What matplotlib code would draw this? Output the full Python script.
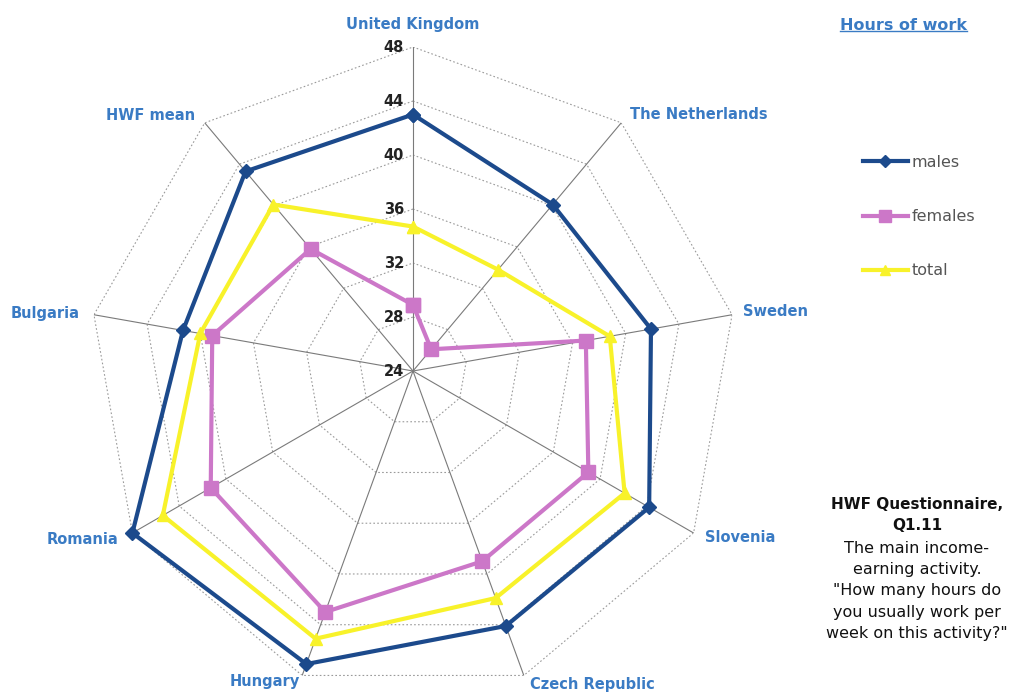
import numpy as np
import matplotlib.pyplot as plt
from matplotlib.lines import Line2D

plt.rcParams['font.family'] = ['DejaVu Sans']

categories = ['United Kingdom', 'The Netherlands', 'Sweden', 'Slovenia',
              'Czech Republic', 'Hungary', 'Romania', 'Bulgaria', 'HWF mean']
males = [43.0, 40.1, 41.9, 44.2, 44.1, 47.1, 48.0, 41.3, 43.3]
females = [28.9, 26.1, 37.0, 39.0, 39.0, 43.0, 41.3, 39.1, 35.8]
total = [34.7, 33.8, 38.8, 42.1, 41.9, 45.1, 45.4, 40.0, 40.1]
r_ticks = [24, 28, 32, 36, 40, 44, 48]

# label offsets in pixels from the outer vertex (ha, dx, dy)
label_pos = [('center', 0, 23), ('left', 9, 8), ('left', 11, 3),
             ('left', 11, -4), ('left', 6, -9), ('right', -2, -6),
             ('right', -14, -6), ('right', -14, 1), ('right', -10, 7)]

blue_txt = '#3a7bc4'
c_males = '#1c4a8c'
c_females = '#cc77c8'
c_total = '#f8f22a'

fig = plt.figure(figsize=(10.1, 6.95), dpi=100)
ax = fig.add_axes([89 / 1010, 0.0, 648 / 1010, 648 / 695], projection='polar')
ax.set_theta_zero_location('N')
ax.set_theta_direction(-1)
ax.set_ylim(24, 48)
ax.grid(False)
ax.spines['polar'].set_visible(False)
ax.set_xticks([])
ax.set_yticks([])
ax.patch.set_alpha(0)

n = len(categories)
theta = np.arange(n) * 2 * np.pi / n
theta_c = np.append(theta, theta[0])

# polygon gridlines
for r in r_ticks[1:]:
    ax.plot(theta_c, [r] * (n + 1), color='#9a9a9a', lw=0.8, ls=(0, (1.5, 2)), zorder=1)
# spokes
for t in theta:
    ax.plot([t, t], [24, 48], color='#7a7a7a', lw=0.8, zorder=1)

def closed(v):
    return list(v) + [v[0]]

ax.plot(theta_c, closed(males), color=c_males, lw=3, marker='D', ms=7.5,
        clip_on=False, zorder=3, label='males')
ax.plot(theta_c, closed(females), color=c_females, lw=3, marker='s', ms=9.5,
        clip_on=False, zorder=4, label='females')
ax.plot(theta_c, closed(total), color=c_total, lw=3, marker='^', ms=8,
        clip_on=False, zorder=5, label='total')

# radial tick labels
for r in r_ticks:
    ax.annotate(str(r), xy=(0, r), xytext=(-9, 0), textcoords='offset pixels',
                ha='right', va='center', fontsize=10.5, fontweight='bold',
                color='#222222', annotation_clip=False)

# category labels
for t, name, (ha, dx, dy) in zip(theta, categories, label_pos):
    ax.annotate(name, xy=(t, 48), xytext=(dx, dy), textcoords='offset pixels',
                ha=ha, va='center', fontsize=10.5, fontweight='bold',
                color=blue_txt, annotation_clip=False)

# legend
handles = [Line2D([], [], color=c_males, lw=3, marker='D', ms=6),
           Line2D([], [], color=c_females, lw=3, marker='s', ms=8),
           Line2D([], [], color=c_total, lw=3, marker='^', ms=7)]
fig.legend(handles, ['males', 'females', 'total'], loc='upper left',
           bbox_to_anchor=(863 / 1010, 1 - 155 / 695), frameon=False,
           borderpad=0, borderaxespad=0,
           fontsize=11.5, labelspacing=2.45, handlelength=2.8, handletextpad=0.25,
           labelcolor='#555555')

# title, underlined
title = fig.text(903 / 1010, 1 - 26 / 695, 'Hours of work', ha='center', va='center',
                 fontsize=11.5, fontweight='bold', color=blue_txt)
fig.canvas.draw()
bb = title.get_window_extent().transformed(fig.transFigure.inverted())
fig.add_artist(Line2D([bb.x0, bb.x1], [bb.y0 + 0.004, bb.y0 + 0.004],
                      transform=fig.transFigure, color=blue_txt, lw=1))

# note
fig.text(917 / 1010, 1 - 497 / 695, 'HWF Questionnaire,\nQ1.11', ha='center', va='top',
         fontsize=11, fontweight='bold', color='#111111', linespacing=1.5)
fig.text(917 / 1010, 1 - 541 / 695,
         'The main income-\nearning activity.\n"How many hours do\nyou usually work per\nweek on this activity?"',
         ha='center', va='top', fontsize=11.5, color='#111111', linespacing=1.52)

fig.savefig('out.png', dpi=100)
